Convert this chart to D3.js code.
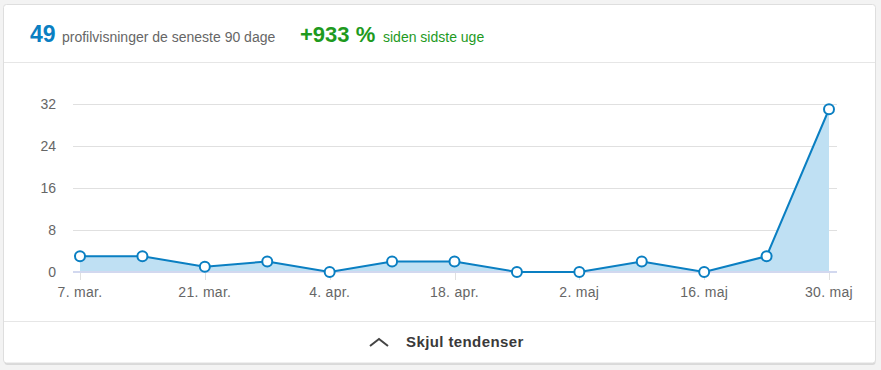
<!DOCTYPE html>
<html><head><meta charset="utf-8">
<script src="https://cdn.jsdelivr.net/npm/d3@7"></script>
<style>
html,body{margin:0;padding:0;background:#f3f3f3;}
svg{display:block;font-family:"Liberation Sans",Arial,Helvetica,sans-serif;}
</style></head>
<body>
<svg id="c" width="881" height="370"></svg>
<script>
const weeks = ["2018-03-07","2018-03-14","2018-03-21","2018-03-28","2018-04-04","2018-04-11","2018-04-18","2018-04-25","2018-05-02","2018-05-09","2018-05-16","2018-05-23","2018-05-30"];
const views = [3,3,1,2,0,2,2,0,0,2,0,3,31];
const yTicks = [0,8,16,24,32];
const xTickLabels = ["7. mar.","21. mar.","4. apr.","18. apr.","2. maj","16. maj","30. maj"];
const totalViews = "49";
const totalLabel = "profilvisninger de seneste 90 dage";
const change = "+933 %";
const changeLabel = "siden sidste uge";
const footerLabel = "Skjul tendenser";

const svg = d3.select("#c");
const parse = d3.timeParse("%Y-%m-%d");
const dates = weeks.map(parse);

// card
svg.append("rect").attr("x",4.5).attr("y",6).attr("width",871).attr("height",359).attr("rx",3).attr("fill","#c8c8c8").attr("opacity",0.6);
svg.append("rect").attr("x",3.5).attr("y",4.5).attr("width",872).attr("height",358.5).attr("rx",3)
  .attr("fill","#fff").attr("stroke","#dedede");
svg.append("line").attr("x1",4).attr("x2",875).attr("y1",62.5).attr("y2",62.5).attr("stroke","#e6e6e6");
svg.append("line").attr("x1",4).attr("x2",875).attr("y1",321.5).attr("y2",321.5).attr("stroke","#e6e6e6");

// header
svg.append("text").attr("x",30).attr("y",42).text(totalViews).attr("font-size",23).attr("fill","#0a7fc2").attr("font-weight",600);
svg.append("text").attr("x",62).attr("y",42).text(totalLabel).attr("font-size",14).attr("fill","#666");
svg.append("text").attr("x",300).attr("y",42).text(change).attr("font-size",22).attr("fill","#1e9a1e").attr("font-weight",700);
svg.append("text").attr("x",383).attr("y",42).text(changeLabel).attr("font-size",14).attr("fill","#1e9a1e");

// chart
const x = d3.scaleTime().domain([dates[0], dates[dates.length-1]]).range([80,829]);
const y = d3.scaleLinear().domain([0,32]).range([272,104]);
const left = 73, right = 837;

svg.append("g").selectAll("line").data(yTicks.filter(d=>d>0)).join("line")
  .attr("x1",left).attr("x2",right).attr("y1",d=>Math.round(y(d))+0.5).attr("y2",d=>Math.round(y(d))+0.5)
  .attr("stroke","#e0e0e0");
svg.append("g").selectAll("text").data(yTicks).join("text")
  .attr("x",56).attr("y",d=>y(d)+5).attr("text-anchor","end").attr("font-size",14).attr("fill","#666").text(d=>d);

const xTickDates = dates.filter((d,i)=>i%2===0);
svg.append("g").selectAll("line").data(xTickDates).join("line")
  .attr("x1",d=>Math.round(x(d))+0.5).attr("x2",d=>Math.round(x(d))+0.5).attr("y1",273).attr("y2",280)
  .attr("stroke","#e0e0e0");
svg.append("g").selectAll("text").data(xTickDates).join("text")
  .attr("x",d=>x(d)).attr("y",297).attr("text-anchor","middle").attr("font-size",14).attr("letter-spacing",0.3).attr("fill","#666")
  .text((d,i)=>xTickLabels[i]);

const pts = dates.map((d,i)=>({d,v:views[i]}));
svg.append("path").datum(pts)
  .attr("d",d3.area().x(p=>x(p.d)).y0(y(0)).y1(p=>y(p.v)))
  .attr("fill","#bfe0f3");
svg.append("line").attr("x1",left).attr("x2",right).attr("y1",272).attr("y2",272).attr("stroke","#d2d8ef").attr("stroke-width",2);
svg.append("path").datum(pts)
  .attr("d",d3.line().x(p=>x(p.d)).y(p=>y(p.v)))
  .attr("fill","none").attr("stroke","#0a7fc2").attr("stroke-width",2);
svg.append("g").selectAll("circle").data(pts).join("circle")
  .attr("cx",p=>x(p.d)).attr("cy",p=>y(p.v)).attr("r",5)
  .attr("fill","#fff").attr("stroke","#0a7fc2").attr("stroke-width",2);

// footer
svg.append("path").attr("d","M370,346 L379,339 L388,346").attr("fill","none").attr("stroke","#444").attr("stroke-width",2);
svg.append("text").attr("x",406).attr("y",347).attr("font-size",15).attr("letter-spacing",0.4).attr("font-weight",700).attr("fill","#3a3a3a").text(footerLabel);
</script>
</body></html>
